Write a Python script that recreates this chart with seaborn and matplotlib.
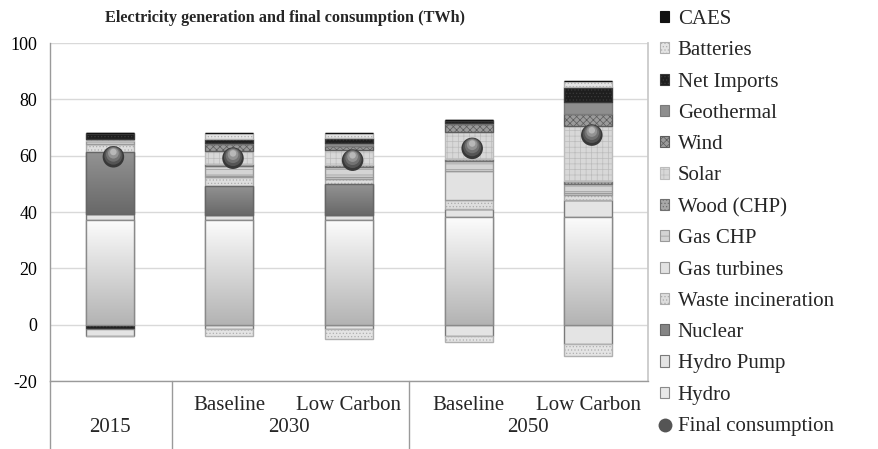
import numpy as np
import pandas as pd
import matplotlib
matplotlib.use("Agg")
import matplotlib.pyplot as plt
import seaborn as sns
from matplotlib.patches import Patch
from matplotlib.lines import Line2D
from matplotlib.colors import LinearSegmentedColormap
import matplotlib.transforms as mtransforms

# ---------------- data ----------------
scenarios = ["", "Baseline", "Low Carbon", "Baseline", "Low Carbon"]
year_groups = ["2015", "2030", "2050"]
year_spans = [(0, 0), (1, 2), (3, 4)]

hydro        = [37.2, 37.2, 37.2, 38.3, 38.4]
hydro_pump   = [2.1, 1.8, 1.8, 2.8, 5.8]
nuclear      = [21.9, 10.3, 10.9, 0.0, 0.0]
waste        = [2.9, 3.0, 1.9, 3.2, 2.0]
gas_turbines = [0.0, 0.6, 0.8, 10.1, 0.6]
gas_chp      = [1.0, 3.5, 3.5, 3.8, 3.0]
wood         = [0.2, 0.6, 0.7, 0.6, 1.2]
solar        = [0.6, 4.8, 5.2, 9.5, 19.6]
wind         = [0.0, 2.3, 1.5, 2.9, 4.2]
geothermal   = [0.0, 0.3, 0.9, 0.3, 4.1]
net_imports  = [2.3, 1.5, 1.9, 1.2, 5.6]
batteries    = [0.0, 2.0, 1.6, 0.0, 2.1]
caes         = [0.0, 0.0, 0.0, 0.0, 0.0]

# storage consumption / exports (negative)
net_exports  = [-1.4, 0.0, 0.0, 0.0, 0.0]
pump_use     = [-2.5, -1.5, -1.5, -3.9, -6.9]
battery_use  = [0.0, -2.4, -3.6, -2.4, -4.1]

final_consumption = [59.6, 59.1, 58.4, 62.6, 67.3]

series_names = ["Hydro", "Hydro Pump", "Nuclear", "Waste incineration", "Gas turbines",
                "Gas CHP", "Wood (CHP)", "Solar", "Wind", "Geothermal", "Net Imports",
                "Batteries", "CAES"]
series_vals = [hydro, hydro_pump, nuclear, waste, gas_turbines, gas_chp, wood, solar,
               wind, geothermal, net_imports, batteries, caes]

# styles: face, edge/hatch colour, hatch
styles = {
    "Hydro":              ("#e8e8e8", "#8a8a8a", None),
    "Hydro Pump":         ("#e4e4e4", "#7a7a7a", None),
    "Nuclear":            ("#858585", "#666666", None),
    "Waste incineration": ("#dedede", "#acacac", "....."),
    "Gas turbines":       ("#e2e2e2", "#9a9a9a", None),
    "Gas CHP":            ("#d4d4d4", "#9a9a9a", "---"),
    "Wood (CHP)":         ("#a8a8a8", "#707070", "....."),
    "Solar":              ("#d8d8d8", "#bcbcbc", "+++"),
    "Wind":               ("#9a9a9a", "#5c5c5c", "xxxxx"),
    "Geothermal":         ("#8e8e8e", "#7a7a7a", None),
    "Net Imports":        ("#1e1e1e", "#3a3a3a", "....."),
    "Batteries":          ("#e4e4e4", "#b0b0b0", "....."),
    "CAES":               ("#111111", "#111111", None),
}

df = pd.DataFrame({"scenario": scenarios, "final": final_consumption})

# ---------------- figure ----------------
sns.set_theme(style="white")
plt.rcParams["font.family"] = ["Liberation Serif", "DejaVu Serif"]
plt.rcParams["hatch.linewidth"] = 0.5

fig = plt.figure(figsize=(8.79, 4.49), dpi=100)
ax = fig.add_axes([50 / 879, 1 - 381 / 449, 598 / 879, 338 / 449])

x = np.arange(len(scenarios))
width = 0.40

def add_gradient(bars, top_col, bot_col):
    cmap = LinearSegmentedColormap.from_list("g", [top_col, bot_col])
    grad = np.linspace(0, 1, 256).reshape(-1, 1)
    for p in bars.patches:
        h = p.get_height()
        if h == 0:
            continue
        x0, y0 = p.get_x(), p.get_y()
        im = ax.imshow(grad, cmap=cmap, extent=[x0, x0 + p.get_width(), y0, y0 + h],
                       aspect="auto", origin="upper", zorder=2.1, interpolation="bilinear")
        im.set_clip_path(p)
        ax.bar(x0 + p.get_width() / 2, h, width, bottom=y0, facecolor="none",
               edgecolor=p.get_edgecolor(), linewidth=1.0, zorder=2.2)

bottom = np.zeros(len(x))
for name, vals in zip(series_names, series_vals):
    v = np.array(vals, dtype=float)
    face, edge, hatch = styles[name]
    bars = ax.bar(x, v, width, bottom=bottom, color=face, edgecolor=edge,
                  hatch=hatch, linewidth=1.0, zorder=2)
    if name == "Hydro":
        add_gradient(bars, "#fcfcfc", "#b3b3b3")
    elif name == "Nuclear":
        add_gradient(bars, "#939393", "#686868")
    bottom = bottom + v

neg_bottom = np.zeros(len(x))
for name, vals in [("Net Imports", net_exports), ("Hydro Pump", pump_use),
                   ("Batteries", battery_use)]:
    v = np.array(vals, dtype=float)
    face, edge, hatch = styles[name]
    ax.bar(x, v, width, bottom=neg_bottom, color=face, edgecolor=edge,
           hatch=hatch, linewidth=1.0, zorder=2)
    neg_bottom = neg_bottom + v

# final consumption "spheres"
sns.scatterplot(data=df, x=x + 0.03, y="final", ax=ax, s=240, color="#383838",
                edgecolor="none", legend=False, zorder=5)
for dy, s, c in [(1.2, 170, "#555555"), (2.4, 110, "#727272"), (3.6, 60, "#939393"),
                 (4.8, 22, "#b8b8b8")]:
    off = mtransforms.ScaledTranslation(0, dy / 100, fig.dpi_scale_trans)
    ax.scatter(x + 0.03, final_consumption, s=s, color=c, edgecolor="none",
               zorder=6, transform=ax.transData + off)

# axes styling
ax.set_xlim(-0.5, len(x) - 0.5)
ax.set_ylim(-20, 100)
ax.set_yticks(np.arange(-20, 101, 20))
ax.set_yticklabels([str(t) for t in range(-20, 101, 20)], fontsize=13)
ax.tick_params(axis="y", length=5, color="#999999", width=1, pad=4, labelcolor="#000000")
ax.yaxis.grid(True, color="#d9d9d9", linewidth=1)
ax.set_axisbelow(True)
ax.set_xticks([])
for s in ["left", "bottom"]:
    ax.spines[s].set_color("#9a9a9a")
    ax.spines[s].set_linewidth(1)
ax.spines["right"].set_color("#c8c8c8")
ax.spines["top"].set_visible(False)
ax.set_xlabel("")
ax.set_ylabel("")

# category table below the axis
xt = ax.get_xaxis_transform()
for xi, lab in zip(x, scenarios):
    ax.text(xi, -0.072, lab, transform=xt, ha="center", va="center", fontsize=15)
for (a, b), yr in zip(year_spans, year_groups):
    ax.text((a + b) / 2, -0.137, yr, transform=xt, ha="center", va="center", fontsize=15)
for xv in [-0.5, 0.52, 2.5]:
    ax.plot([xv, xv], [0, -0.21], transform=xt, color="#9a9a9a", lw=1, clip_on=False)

# title
fig.text(285 / 879, 1 - 18 / 449, "Electricity generation and final consumption (TWh)",
         ha="center", va="center", fontsize=11.7, fontweight="bold")

# legend
handles = []
for name in reversed(series_names):
    face, edge, hatch = styles[name]
    handles.append(Patch(facecolor=face, edgecolor=edge, hatch=hatch, linewidth=0.8,
                         label=name))
handles.append(Line2D([], [], marker="o", linestyle="none", markersize=10,
                      markerfacecolor="#555555", markeredgecolor="none",
                      label="Final consumption"))
fig.legend(handles=handles, loc="upper left", bbox_to_anchor=(660 / 879, 1 - 10 / 449),
           frameon=False, fontsize=15, handlelength=0.45, handleheight=0.45,
           handletextpad=0.4, labelspacing=0.59, borderpad=0, borderaxespad=0)

fig.savefig("out.png", dpi=100)
